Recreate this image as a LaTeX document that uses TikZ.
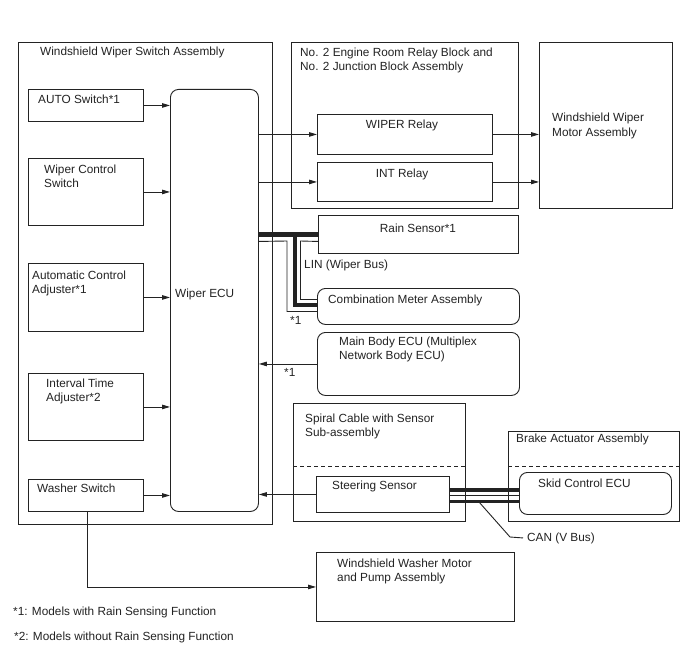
\documentclass[tikz,border=0pt]{standalone}
\usepackage{fontspec}
\setmainfont{Liberation Sans}
\usetikzlibrary{arrows.meta,calc}
\definecolor{lc}{RGB}{35,35,35}
\begin{document}
\begin{tikzpicture}[x=1pt,y=-1pt,
  box/.style={draw=lc, line width=0.9pt, inner sep=0pt, anchor=north west},
  rbox/.style={box, rounded corners=8pt},
  lbl/.style={anchor=base west, inner sep=0pt, font=\fontsize{11.8}{14}\selectfont, text=lc},
  clbl/.style={lbl, anchor=base},
  ln/.style={draw=lc, line width=0.9pt},
  arr/.style={ln, -{Triangle[length=8pt,width=4.5pt]}},
  lin/.style={draw=lc, line width=4pt},
  can/.style={draw=lc, line width=3.5pt},
  dsh/.style={draw=lc, line width=0.9pt, dash pattern=on 4pt off 3pt}]
\useasboundingbox (0,0) rectangle (688,658);
\fill[white] (0,0) rectangle (688,658);

% boxes
\node[box, minimum width=254, minimum height=482] (sw) at (18,42) {};
\node[box, minimum width=115, minimum height=32] (auto) at (28,89) {};
\node[box, minimum width=115, minimum height=67] (wcs) at (28,158) {};
\node[box, minimum width=115, minimum height=68] (aca) at (28,263) {};
\node[box, minimum width=115, minimum height=67] (ita) at (28,373) {};
\node[box, minimum width=115, minimum height=32] (wash) at (28,479) {};
\node[rbox, minimum width=88, minimum height=422] (ecu) at (170,89) {};
\node[box, minimum width=227, minimum height=166] (rb) at (291,42) {};
\node[box, minimum width=175, minimum height=40] (wr) at (317,114) {};
\node[box, minimum width=175, minimum height=39] (ir) at (317,162) {};
\node[box, minimum width=133, minimum height=166] (motor) at (539,42) {};
\node[box, minimum width=200, minimum height=38] (rain) at (318,215) {};
\node[rbox, minimum width=202, minimum height=36] (comb) at (317,288) {};
\node[rbox, minimum width=202, minimum height=63] (mbe) at (317,332) {};
\node[box, minimum width=172, minimum height=118] (spiral) at (293,403) {};
\node[box, minimum width=133, minimum height=36] (steer) at (316,476) {};
\node[box, minimum width=171, minimum height=90] (brake) at (508,431) {};
\node[rbox, minimum width=152, minimum height=42] (skid) at (519,472) {};
\node[box, minimum width=198, minimum height=69] (pump) at (316,552) {};

% dashed separators
\draw[dsh] (spiral.west |- 0,466) -- (spiral.east |- 0,466);
\draw[dsh] (brake.west |- 0,466) -- (brake.east |- 0,466);

% labels
\node[lbl] (t1) at (40,56) {Windshield Wiper Switch Assembly};
\node[lbl] (t2) at (300,57) {No. 2 Engine Room Relay Block and};
\node[lbl] (t3) at (300,71) {No. 2 Junction Block Assembly};
\node[lbl] (t4) at (552,122) {Windshield Wiper};
\node[lbl] (t5) at (552,136) {Motor Assembly};
\node[lbl] (t6) at (38,104) {AUTO Switch*1};
\node[lbl] (t7) at (44,173) {Wiper Control};
\node[lbl] (t8) at (44,187) {Switch};
\node[clbl] (t9) at (402,129) {WIPER Relay};
\node[clbl] (t10) at (402,177) {INT Relay};
\node[clbl] (t11) at (418,232) {Rain Sensor*1};
\node[lbl] (t12) at (304,268) {LIN (Wiper Bus)};
\node[lbl] (t13) at (328,303) {Combination Meter Assembly};
\node[lbl] (t14) at (290,324) {*1};
\node[lbl] (t15) at (339,345) {Main Body ECU (Multiplex};
\node[lbl] (t16) at (339,359) {Network Body ECU)};
\node[lbl] (t17) at (284,376) {*1};
\node[lbl] (t18) at (32,279) {Automatic Control};
\node[lbl] (t19) at (32,293) {Adjuster*1};
\node[lbl] (t20) at (175,297) {Wiper ECU};
\node[lbl] (t21) at (46,387) {Interval Time};
\node[lbl] (t22) at (46,401) {Adjuster*2};
\node[lbl] (t23) at (37,492) {Washer Switch};
\node[lbl] (t24) at (305,422) {Spiral Cable with Sensor};
\node[lbl] (t25) at (305,436) {Sub-assembly};
\node[lbl] (t26) at (516,442) {Brake Actuator Assembly};
\node[lbl] (t27) at (332,489) {Steering Sensor};
\node[lbl] (t28) at (538,487) {Skid Control ECU};
\node[lbl] (canl) at (527,541) {CAN (V Bus)};
\node[lbl] (t29) at (337,567) {Windshield Washer Motor};
\node[lbl] (t30) at (337,581) {and Pump Assembly};
\node[lbl] (t31) at (13,615) {*1: Models with Rain Sensing Function};
\node[lbl] (t32) at (14,640) {*2: Models without Rain Sensing Function};

% switch inputs
\draw[arr] (auto.east) -- (auto.east -| ecu.west);
\draw[arr] (wcs.east) -- (wcs.east -| ecu.west);
\draw[arr] (aca.east) -- (aca.east -| ecu.west);
\draw[arr] (ita.east) -- (ita.east -| ecu.west);
\draw[arr] (wash.east) -- (wash.east -| ecu.west);

% relays
\draw[arr] (ecu.east |- wr.west) -- (wr.west);
\draw[arr] (ecu.east |- ir.west) -- (ir.west);
\draw[arr] (wr.east) -- (wr.east -| motor.west);
\draw[arr] (ir.east) -- (ir.east -| motor.west);

% main body ECU and steering sensor
\draw[arr] (mbe.west) -- (mbe.west -| ecu.east);
\draw[arr] (steer.west) -- (steer.west -| ecu.east);

% washer
\draw[arr] ([xshift=1.5pt]wash.south) |- (pump.west);

% LIN bus
\coordinate (busR) at ($(rain.west)+(0,0.5)$);
\coordinate (lj) at (294.5,234.5);
\draw[lin] (ecu.east |- busR) -- (busR);
\draw[lin] (lj) |- ($(comb.west)+(0,-1)$);
\draw[ln] ($(ecu.east |- busR)+(0,-3)$) -- ($(busR)+(0,-3)$);
\draw[ln] ($(ecu.east |- busR)+(0,6.5)$) -- ($(lj)+(-7.5,6.5)$) |- ($(comb.west)+(0,5)$);
\draw[ln] ($(busR)+(0,6.5)$) -- ($(lj)+(6,6.5)$) |- ($(comb.west)+(0,-7)$);

% CAN bus
\draw[can] ($(steer.east)+(0,-4.5)$) -- ($(steer.east -| skid.west)+(0,-4.5)$);
\draw[can] ($(steer.east)+(0,7)$) -- ($(steer.east -| skid.west)+(0,7)$);
\draw[ln] ($(steer.east)+(0,1.3)$) -- ($(steer.east -| skid.west)+(0,1.3)$);
\coordinate (canA) at (479,502);
\draw[ln] (canA) -- (510,537) -- ($(canl.west)+(-4,0)$);
\end{tikzpicture}
\end{document}
